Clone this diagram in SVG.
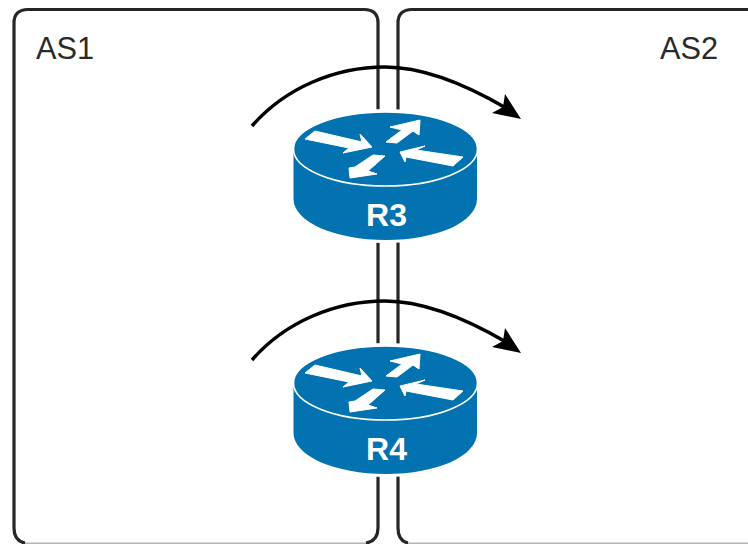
<svg xmlns="http://www.w3.org/2000/svg" width="748" height="544" viewBox="0 0 748 544">
<defs>
<style>
.as{fill:none;stroke:#262626;stroke-width:3.2}
.base{fill:none;stroke:#b4b4b4;stroke-width:1.5}
.flow{fill:none;stroke:#000;stroke-width:3.500}
.head{fill:#000}
.side{fill:#0272b0}
.top{fill:#0272b0;stroke:#fff;stroke-width:1.6}
.halo{fill:#fff}
.ar{fill:#fff;stroke:#fff;stroke-width:1;stroke-linejoin:round}
.lab{font-family:"Liberation Sans",Arial,sans-serif;font-size:30.700px;fill:#2b2b2b}
.rl{font-family:"Liberation Sans",Arial,sans-serif;font-size:32px;font-weight:bold;fill:#fff;text-anchor:middle}
</style>
<g id="router">
<path class="halo" d="M291 148V199C291 224 335 243 386 243S480 224 480 199V148C480 124 436 109 386 109S291 124 291 148Z"/>
<path class="side" d="M293.500 148V199C293.500 222 335 240 386 240S477 222 477 199V148Z"/>
<ellipse class="top" cx="385.500" cy="149" rx="92" ry="37"/>
<path class="ar" d="M305 139L315 131L362 142L360 134L372 147L343 153L349 148Z"/>
<path class="ar" d="M386 142L402 130L390 127L420 120L419 135L413 131L397 143Z"/>
<path class="ar" d="M400 152L425 146L416 150L463 157L453 166L406 157L405 162Z"/>
<path class="ar" d="M350 178L349 168L355 167L373 155L385 156L368 171L377 174Z"/>
</g>
</defs>
<g id="as1">
<path class="as" d="M25 543Q14 541 14 528V23Q14 9.500 28 9.500H364Q378 9.500 378 23V528Q378 541 366 543"/>
<path class="base" d="M25 543.200H366"/>
<text class="lab" x="36" y="59">AS1</text>
</g>
<g id="as2">
<path class="as" d="M408 543Q398 541 398 528V23Q398 9.500 412 9.500H748"/>
<path class="base" d="M408 543.200H748"/>
<text class="lab" x="660" y="59">AS2</text>
</g>
<g id="connectors">
<path class="flow" d="M252 126C285 88 335 67 385 67C425 67 470 87 506 108"/>
<path class="head" d="M521 119L492 113L503 107L505 94Z"/>
<path class="flow" d="M252 360C285 322 335 301 385 301C425 301 470 321 506 342"/>
<path class="head" d="M521 353L492 347L503 341L505 328Z"/>
</g>
<g id="R3"><use href="#router"/><text class="rl" x="386.500" y="226">R3</text></g>
<g id="R4"><use href="#router" y="234"/><text class="rl" x="386.500" y="460">R4</text></g>
</svg>
